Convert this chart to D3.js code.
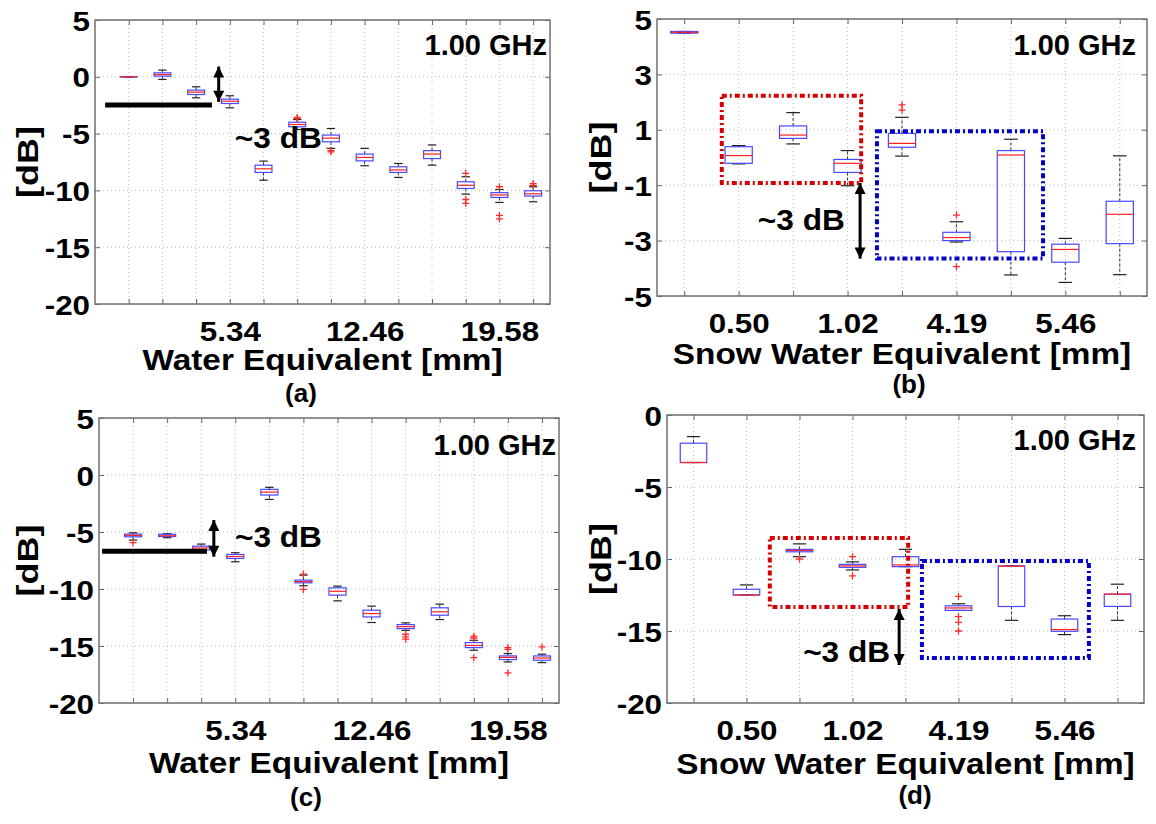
<!DOCTYPE html>
<html><head><meta charset="utf-8">
<script src="https://cdn.jsdelivr.net/npm/d3@7"></script>
<style>
body{margin:0;background:#fff}
svg text{font-family:"Liberation Sans",Arial,Helvetica,sans-serif;font-weight:bold;fill:#000}
</style>
</head><body>
<script>
// ---------------- DATA ----------------
// Panel (a): 13 categories, labels at positions 4, 8, 12
const aTickPos = [4, 8, 12];
const aTickLabels = ["5.34", "12.46", "19.58"];
const aQ3  = [0.02, 0.35, -1.17, -1.97, -7.78, -4.0, -5.13, -6.8, -7.92, -6.5, -9.24, -10.2, -10.03];
const aMed = [0, 0.2, -1.35, -2.15, -8.1, -4.2, -5.4, -7.1, -8.2, -6.8, -9.55, -10.4, -10.3];
const aQ1  = [-0.02, 0.06, -1.56, -2.35, -8.42, -4.4, -5.72, -7.4, -8.42, -7.2, -9.83, -10.62, -10.5];
const aHi  = [0.02, 0.59, -0.88, -1.67, -7.42, -3.76, -4.55, -6.3, -7.63, -6.0, -8.8, -9.92, -9.68];
const aLo  = [-0.02, -0.23, -1.85, -2.73, -9.1, -4.64, -6.3, -7.83, -8.86, -7.78, -10.33, -11.06, -11.0];
const aOut = [[], [], [], [], [], [-3.67, -3.58], [-6.6, -6.5], [], [], [], [-8.5, -10.8, -11.15], [-9.68, -12.2, -12.5], [-9.4, -9.55]];

// Panel (b): 9 categories, labels at 2, 4, 6, 8
const bTickPos = [2, 4, 6, 8];
const bTickLabels = ["0.50", "1.02", "4.19", "5.46"];
const bQ3  = [4.55, 0.39, 1.14, -0.07, 0.87, -2.70, 0.25, -3.13, -1.58];
const bMed = [4.52, 0.07, 0.81, -0.21, 0.51, -2.89, 0.09, -3.32, -2.05];
const bQ1  = [4.49, -0.21, 0.69, -0.54, 0.37, -3.0, -3.40, -3.78, -3.11];
const bHi  = [4.55, 0.43, 1.62, 0.25, 1.45, -2.32, 0.66, -2.92, 0.06];
const bLo  = [4.49, -0.23, 0.49, -1.02, 0.05, -3.05, -4.24, -4.51, -4.23];
const bOut = [[], [], [], [], [1.9, 1.71], [-2.08, -3.94], [], [], []];

// Panel (c)
const cTickPos = [4, 8, 12];
const cTickLabels = ["5.34", "12.46", "19.58"];
const cQ3  = [-5.18, -5.2, -6.24, -6.97, -1.26, -9.22, -9.9, -11.86, -13.12, -11.65, -14.7, -15.87, -15.87];
const cMed = [-5.3, -5.33, -6.4, -7.15, -1.5, -9.35, -10.2, -12.15, -13.3, -12.0, -14.95, -16.0, -16.05];
const cQ1  = [-5.42, -5.4, -6.59, -7.32, -1.76, -9.46, -10.54, -12.45, -13.47, -12.3, -15.14, -16.19, -16.25];
const cHi  = [-5.07, -5.15, -6.06, -6.82, -1.08, -8.78, -9.75, -11.5, -12.97, -11.33, -14.5, -15.67, -15.72];
const cLo  = [-5.71, -5.5, -6.73, -7.61, -2.14, -9.72, -11.04, -12.94, -13.62, -12.68, -15.37, -16.4, -16.46];
const cOut = [[-5.94], [], [], [], [], [-8.7, -10.04], [], [], [-13.97, -14.2, -14.4], [], [-14.14, -14.3, -16.02], [-15.14, -15.3, -17.36], [-15.08]];

// Panel (d)
const dTickPos = [2, 4, 6, 8];
const dTickLabels = ["0.50", "1.02", "4.19", "5.46"];
const dQ3  = [-1.96, -12.1, -9.33, -10.37, -9.84, -13.25, -10.48, -14.17, -12.44];
const dMed = [-3.3, -12.5, -9.4, -10.48, -10.41, -13.4, -10.5, -14.9, -12.44];
const dQ1  = [-3.3, -12.5, -9.5, -10.58, -10.53, -13.57, -13.3, -15.02, -13.29];
const dHi  = [-1.5, -11.8, -8.95, -10.2, -9.33, -13.11, -10.48, -13.94, -11.75];
const dLo  = [-3.3, -12.5, -9.84, -10.76, -10.53, -13.57, -14.26, -15.25, -14.26];
const dOut = [[], [], [-10.0], [-9.84, -11.17], [], [-12.6, -14.0, -14.4, -15.0], [], [], []];

// y tick values
const yTicksWide = [5, 0, -5, -10, -15, -20];
const yTicksB = [5, 3, 1, -1, -3, -5];
const yTicksD = [0, -5, -10, -15, -20];

// annotations (data units)
const aRefLine = [0.3, 3.47, -2.49];
const aArrow = [3.67, 0.9, -2.2];
const aNote = [4.15, -6.27];
const cRefLine = [0.09, 3.17, -6.68];
const cArrow = [3.37, -3.95, -7.17];
const cNote = [3.99, -6.32];
const bRedRect = [1.69, 4.25, 2.23, -0.92];
const bBlueRect = [4.54, 7.59, 0.95, -3.65];
const bArrow = [4.23, -0.92, -3.65];
const bNote = [3.95, -2.62];
const dRedRect = [2.44, 5.05, -8.54, -13.33];
const dBlueRect = [5.31, 8.46, -10.14, -16.88];
const dArrow = [4.88, -13.47, -17.36];
const dNote = [4.71, -17.15];

// ---------------- DRAW ----------------
const svg = d3.select("body").append("svg").attr("width", 1156).attr("height", 824);
const defs = svg.append("defs");
defs.append("marker").attr("id", "ah").attr("viewBox", "0 0 10 10")
  .attr("refX", 10).attr("refY", 5).attr("markerWidth", 13).attr("markerHeight", 11)
  .attr("markerUnits", "userSpaceOnUse").attr("orient", "auto-start-reverse")
  .append("path").attr("d", "M0,0 L10,5 L0,10 z").attr("fill", "#000");

// widen glyphs horizontally (reference text is stretched)
function stretch(sel, k) {
  sel.each(function () {
    const len = this.getComputedTextLength();
    if (len > 0) d3.select(this).attr("textLength", len * k).attr("lengthAdjust", "spacingAndGlyphs");
  });
}

const panels = [
  {left: 95, right: 550, top: 20, bottom: 304, xDomain: [0, 13.5], yDomain: [-20, 5], yTicks: yTicksWide,
   tickPos: aTickPos, tickLabels: aTickLabels, q1: aQ1, med: aMed, q3: aQ3, lo: aLo, hi: aHi, out: aOut,
   title: "Water Equivalent [mm]", titleY: 370, cap: "(a)", capX: 301, capY: 402, ghzY: 55, ghzDx: 3, dbX: 27,
   refLine: aRefLine, arrow: aArrow, note: aNote, noteAnchor: "start"},
  {left: 657, right: 1147, top: 19, bottom: 296, xDomain: [0.5, 9.5], yDomain: [-5, 5], yTicks: yTicksB,
   tickPos: bTickPos, tickLabels: bTickLabels, q1: bQ1, med: bMed, q3: bQ3, lo: bLo, hi: bHi, out: bOut,
   title: "Snow Water Equivalent [mm]", titleY: 364, cap: "(b)", capX: 909, capY: 393, ghzY: 55, ghzDx: 11, dbX: 600,
   redRect: bRedRect, blueRect: bBlueRect, arrow: bArrow, note: bNote, noteAnchor: "end"},
  {left: 99, right: 559, top: 418, bottom: 703, xDomain: [0, 13.5], yDomain: [-20, 5], yTicks: yTicksWide,
   tickPos: cTickPos, tickLabels: cTickLabels, q1: cQ1, med: cMed, q3: cQ3, lo: cLo, hi: cHi, out: cOut,
   title: "Water Equivalent [mm]", titleY: 773, cap: "(c)", capX: 306, capY: 806, ghzY: 455, ghzDx: 3, dbX: 27,
   refLine: cRefLine, arrow: cArrow, note: cNote, noteAnchor: "start"},
  {left: 667, right: 1144, top: 415, bottom: 703, xDomain: [0.5, 9.5], yDomain: [-20, 0], yTicks: yTicksD,
   tickPos: dTickPos, tickLabels: dTickLabels, q1: dQ1, med: dMed, q3: dQ3, lo: dLo, hi: dHi, out: dOut,
   title: "Snow Water Equivalent [mm]", titleY: 774, cap: "(d)", capX: 915, capY: 804, ghzY: 450, ghzDx: 8, dbX: 600,
   redRect: dRedRect, blueRect: dBlueRect, arrow: dArrow, note: dNote, noteAnchor: "end"}
];

function drawPanel(p) {
  const g = svg.append("g");
  const x = d3.scaleLinear().domain(p.xDomain).range([p.left, p.right]);
  const y = d3.scaleLinear().domain(p.yDomain).range([p.bottom, p.top]);
  const n = p.q1.length;
  const cats = d3.range(1, n + 1);
  const step = x(2) - x(1);
  const bw = step * 0.5;

  // grid
  g.selectAll(".vg").data(cats).join("line").attr("class", "vg")
    .attr("x1", d => x(d)).attr("x2", d => x(d)).attr("y1", p.top).attr("y2", p.bottom)
    .attr("stroke", "#bdbdbd").attr("stroke-width", 1).attr("stroke-dasharray", "1,3");
  g.selectAll(".hg").data(p.yTicks).join("line").attr("class", "hg")
    .attr("x1", p.left).attr("x2", p.right).attr("y1", d => y(d)).attr("y2", d => y(d))
    .attr("stroke", "#bdbdbd").attr("stroke-width", 1).attr("stroke-dasharray", "1,3");

  // axes
  const labelOf = {};
  p.tickPos.forEach((t, i) => labelOf[t] = p.tickLabels[i]);
  const styleAxis = (sel, fs) => {
    sel.select(".domain").remove();
    sel.attr("font-family", null).attr("font-size", null);
    sel.selectAll(".tick line").attr("stroke", "#666");
    sel.selectAll("text").attr("font-size", fs).style("fill", "#000");
  };
  const xb = g.append("g").attr("transform", `translate(0,${p.bottom})`)
    .call(d3.axisBottom(x).tickValues(cats).tickSize(-5).tickPadding(17).tickFormat(d => labelOf[d] || ""))
    .call(s => styleAxis(s, 28));
  stretch(xb.selectAll("text"), 1.12);
  g.append("g").attr("transform", `translate(0,${p.top})`)
    .call(d3.axisTop(x).tickValues(cats).tickSize(-5).tickFormat(""))
    .call(s => styleAxis(s, 10));
  const yl = g.append("g").attr("transform", `translate(${p.left},0)`)
    .call(d3.axisLeft(y).tickValues(p.yTicks).tickSize(-5).tickPadding(5).tickFormat(d => String(d)))
    .call(s => styleAxis(s, 28));
  yl.selectAll("text").attr("dy", "0.36em");
  stretch(yl.selectAll("text"), 1.12);
  g.append("g").attr("transform", `translate(${p.right},0)`)
    .call(d3.axisRight(y).tickValues(p.yTicks).tickSize(-5).tickFormat(""))
    .call(s => styleAxis(s, 10));

  // frame
  g.append("rect").attr("x", p.left).attr("y", p.top).attr("width", p.right - p.left).attr("height", p.bottom - p.top)
    .attr("fill", "none").attr("stroke", "#707070").attr("stroke-width", 1.5);

  // boxes
  const boxes = cats.map((c, i) => ({c, q1: p.q1[i], med: p.med[i], q3: p.q3[i], lo: p.lo[i], hi: p.hi[i], out: p.out[i]}));
  g.selectAll(".wu").data(boxes).join("line").attr("class", "wu")
    .attr("x1", d => x(d.c)).attr("x2", d => x(d.c)).attr("y1", d => y(d.q3)).attr("y2", d => y(d.hi))
    .attr("stroke", "#333").attr("stroke-dasharray", "3,2");
  g.selectAll(".wl").data(boxes).join("line").attr("class", "wl")
    .attr("x1", d => x(d.c)).attr("x2", d => x(d.c)).attr("y1", d => y(d.q1)).attr("y2", d => y(d.lo))
    .attr("stroke", "#333").attr("stroke-dasharray", "3,2");
  g.selectAll(".ch").data(boxes).join("line").attr("class", "ch")
    .attr("x1", d => x(d.c) - bw / 4).attr("x2", d => x(d.c) + bw / 4).attr("y1", d => y(d.hi)).attr("y2", d => y(d.hi))
    .attr("stroke", "#222").attr("stroke-width", 1.2);
  g.selectAll(".cl").data(boxes).join("line").attr("class", "cl")
    .attr("x1", d => x(d.c) - bw / 4).attr("x2", d => x(d.c) + bw / 4).attr("y1", d => y(d.lo)).attr("y2", d => y(d.lo))
    .attr("stroke", "#222").attr("stroke-width", 1.2);
  g.selectAll(".bx").data(boxes).join("rect").attr("class", "bx")
    .attr("x", d => x(d.c) - bw / 2).attr("width", bw)
    .attr("y", d => y(d.q3)).attr("height", d => Math.max(0.01, y(d.q1) - y(d.q3)))
    .attr("fill", "none").attr("stroke", "#4848ff").attr("stroke-width", 1.2);
  g.selectAll(".md").data(boxes).join("line").attr("class", "md")
    .attr("x1", d => x(d.c) - bw / 2).attr("x2", d => x(d.c) + bw / 2).attr("y1", d => y(d.med)).attr("y2", d => y(d.med))
    .attr("stroke", "#ff2020").attr("stroke-width", 1.2);
  const outs = boxes.flatMap(d => d.out.map(v => ({c: d.c, v})));
  g.selectAll(".ol").data(outs).join("path").attr("class", "ol")
    .attr("d", d => `M${x(d.c) - 3.5},${y(d.v)}h7M${x(d.c)},${y(d.v) - 3.5}v7`)
    .attr("stroke", "#ff2a2a").attr("stroke-width", 1.3).attr("fill", "none");

  // annotations
  if (p.refLine) {
    g.append("line").attr("x1", x(p.refLine[0])).attr("x2", x(p.refLine[1]))
      .attr("y1", y(p.refLine[2])).attr("y2", y(p.refLine[2])).attr("stroke", "#000").attr("stroke-width", 5);
  }
  const drawRect = (r, col) => g.append("rect")
    .attr("x", x(r[0])).attr("y", y(r[2])).attr("width", x(r[1]) - x(r[0])).attr("height", y(r[3]) - y(r[2]))
    .attr("fill", "none").attr("stroke", col).attr("stroke-width", 4).attr("stroke-dasharray", "5,3,2,3");
  if (p.redRect) drawRect(p.redRect, "#d40000");
  if (p.blueRect) drawRect(p.blueRect, "#0000c8");
  if (p.arrow) {
    g.append("line").attr("x1", x(p.arrow[0])).attr("x2", x(p.arrow[0]))
      .attr("y1", y(p.arrow[1])).attr("y2", y(p.arrow[2]))
      .attr("stroke", "#000").attr("stroke-width", 3)
      .attr("marker-start", "url(#ah)").attr("marker-end", "url(#ah)");
  }
  const note = g.append("text").attr("x", x(p.note[0])).attr("y", y(p.note[1])).attr("text-anchor", p.noteAnchor)
    .attr("font-size", 29).text("~3 dB");
  stretch(note, 1.09);

  // labels
  g.append("text").attr("x", p.right - p.ghzDx).attr("y", p.ghzY).attr("text-anchor", "end")
    .attr("font-size", 29).text("1.00 GHz");
  const t = g.append("text").attr("x", (p.left + p.right) / 2).attr("y", p.titleY).attr("text-anchor", "middle")
    .attr("font-size", 29).text(p.title);
  stretch(t, 1.15);
  g.append("text").attr("x", p.capX).attr("y", p.capY).attr("text-anchor", "middle")
    .attr("font-size", 26).text(p.cap);
  const db = g.append("text").attr("transform", `translate(${p.dbX},${(p.top + p.bottom) / 2}) rotate(-90)`)
    .attr("text-anchor", "middle").attr("dy", "0.36em").attr("font-size", 30).text("[dB]");
  stretch(db, 1.2);
}

panels.forEach(drawPanel);
</script>
</body></html>
